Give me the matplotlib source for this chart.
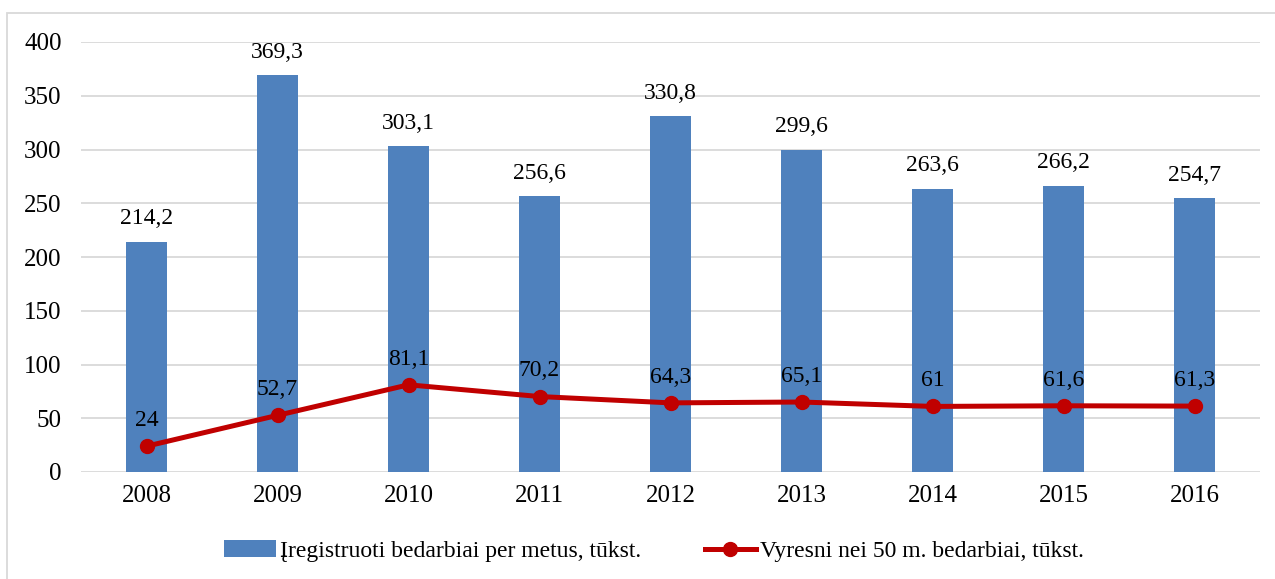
import matplotlib
matplotlib.use("Agg")
import matplotlib.pyplot as plt
from matplotlib.patches import Rectangle

years = ["2008", "2009", "2010", "2011", "2012", "2013", "2014", "2015", "2016"]
registered = [214.2, 369.3, 303.1, 256.6, 330.8, 299.6, 263.6, 266.2, 254.7]
older50 = [24, 52.7, 81.1, 70.2, 64.3, 65.1, 61, 61.6, 61.3]
bar_name = "Įregistruoti bedarbiai per metus, tūkst."
line_name = "Vyresni nei 50 m. bedarbiai, tūkst."

def fmt(v):
    s = ("%g" % v)
    return s.replace(".", ",")

plt.rcParams['font.family'] = ['Liberation Serif', 'DejaVu Serif']

fig = plt.figure(figsize=(12.75, 5.79), dpi=100)
ax = fig.add_axes([81/1275, 1-472/579, (1260-81)/1275, (472-42)/579])

x = list(range(len(years)))
bars = ax.bar(x, registered, width=0.31, color="#4F81BD", zorder=2, label=bar_name)
line, = ax.plot(x, older50, color="#C00000", lw=3.6, marker="o", markersize=10,
                zorder=3, label=line_name)

for xi, v in zip(x, registered):
    ax.annotate(fmt(v), (xi, v), xytext=(0, 9), textcoords="offset points",
                ha="center", va="bottom", fontsize=17)
for xi, v in zip(x, older50):
    ax.annotate(fmt(v), (xi, v), xytext=(0, 11), textcoords="offset points",
                ha="center", va="bottom", fontsize=17)

ax.set_xlim(-0.5, len(years) - 0.5)
ax.set_ylim(0, 400)
ax.set_yticks(range(0, 401, 50))
ax.set_xticks(x)
ax.set_xticklabels(years)
ax.tick_params(axis="both", length=0, labelsize=18)
ax.tick_params(axis="y", pad=14)
ax.tick_params(axis="x", pad=9)
ax.grid(axis="y", color="#D9D9D9", lw=1.3, zorder=0)
ax.set_axisbelow(True)
for s in ax.spines.values():
    s.set_visible(False)

leg = fig.legend([bars, line], [bar_name, line_name], loc="center",
                 bbox_to_anchor=(654/1275, 1-551/579), ncol=2, frameon=False,
                 fontsize=17, handlelength=2.2, handletextpad=0.15, columnspacing=2.7)

fig.patches.append(Rectangle((7/1275, -0.01), 1.1, 1-13/579+0.01, transform=fig.transFigure,
                             fill=False, edgecolor="#D9D9D9", lw=1.3))

fig.savefig("out.png", dpi=100)
